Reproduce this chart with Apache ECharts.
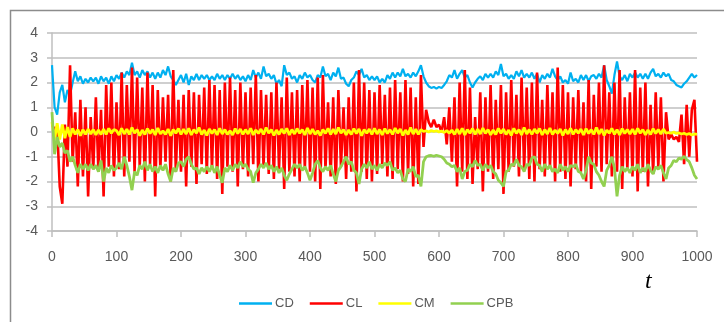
<!DOCTYPE html>
<html>
<head>
<meta charset="utf-8">
<script src="https://cdn.jsdelivr.net/npm/echarts@6/dist/echarts.min.js"></script>
<style>
  html, body { margin: 0; padding: 0; background: #fff; }
  #chart { width: 724px; height: 322px; }
</style>
</head>
<body>
<div id="chart"></div>
<script>
  // samples every 4 time units, t = 0 ... 1000
  const T_STEP = 4;
  const xTicks = [0, 100, 200, 300, 400, 500, 600, 700, 800, 900, 1000];
  const seriesNames = ['CD', 'CL', 'CM', 'CPB'];

  const cdValues = [
    2.7, 1.0, 0.7, 1.6, 1.9, 1.2, 1.7, 1.5, 2.0, 2.45, 2.05, 2.25, 1.95, 2.15, 2.0, 2.2, 2.05, 2.2, 1.95, 2.25, 2.05, 2.2, 1.95, 2.25, 2.05,
    2.3, 2.15, 2.4, 2.2, 2.45, 2.3, 2.8, 2.3, 2.45, 2.2, 2.5, 2.3, 2.45, 2.2, 2.4, 2.15, 2.4, 2.2, 2.5, 2.3, 2.65, 2.25, 2.1, 1.9, 2.1,
    2.3, 2.0, 2.35, 1.9, 2.25, 2.1, 2.35, 2.1, 2.3, 2.15, 2.3, 2.1, 2.25, 2.1, 2.35, 2.15, 2.3, 2.1, 2.3, 2.15, 2.35, 2.15, 2.3, 2.1, 2.25,
    2.05, 2.3, 2.1, 2.5, 2.2, 2.4, 2.15, 2.65, 2.25, 2.35, 2.15, 2.3, 1.95, 2.1, 1.85, 2.7, 2.3, 2.4, 2.15, 2.25, 2.0, 2.3, 2.15, 2.4, 2.2,
    2.3, 2.1, 2.0, 2.3, 2.2, 2.65, 2.25, 2.35, 2.1, 2.4, 2.25, 2.6, 2.15, 2.2, 1.95, 1.85, 2.1, 2.2, 2.45, 2.3, 2.55, 2.2, 2.3, 2.1, 2.25,
    2.1, 2.25, 2.0, 2.15, 2.0, 2.3, 2.15, 2.4, 2.2, 2.4, 2.25, 2.55, 2.25, 2.35, 2.2, 2.4, 2.25, 2.45, 2.7, 2.25, 2.0, 1.85, 1.78, 1.82, 1.75,
    1.82, 1.78, 1.9, 2.05, 2.3, 2.2, 2.5, 2.15, 2.35, 2.5, 2.2, 2.3, 2.0, 1.8, 2.0, 2.15, 2.25, 2.1, 2.35, 2.2, 2.35, 2.2, 2.45, 2.3, 2.75,
    2.25, 2.35, 2.15, 2.3, 2.15, 2.45, 2.25, 2.5, 2.2, 2.35, 2.2, 2.4, 2.15, 2.35, 2.0, 2.3, 2.15, 2.35, 2.2, 2.55, 2.25, 2.1, 2.25, 2.0, 2.1,
    1.95, 2.4, 2.05, 2.15, 2.0, 2.3, 2.1, 2.3, 2.05, 2.25, 2.3, 2.15, 2.35, 2.2, 2.7, 2.1, 1.85, 1.55, 2.3, 2.85, 2.25, 2.1, 2.3, 2.05, 2.35,
    2.2, 2.4, 2.2, 2.35, 2.15, 2.35, 2.15, 2.4, 2.55, 2.25, 2.35, 2.2, 2.4, 2.25, 2.35, 2.1, 2.05, 1.9, 1.85, 1.8, 1.95, 2.05, 2.2, 2.35, 2.2, 2.3
  ];

  const clValues = [
    0.3, 0.1, 0.2, -2.2, -2.9, 0.3, -1.4, 2.7, -1.2, 0.8, -2.2, 1.3, -1.8, 1.0, -2.6, 0.6, -1.5, 1.4, -1.6, 0.9, -2.6, 1.9, -1.4, 2.0, -1.8,
    1.2, -1.5, 2.4, -1.8, 1.9, -1.2, 2.6, -1.6, 2.2, -1.4, 1.8, -2.0, 2.4, -1.3, 1.9, -2.6, 1.7, -1.5, 1.4, -1.2, 1.5, -2.0, 2.5, -1.6, 1.3,
    -1.6, 1.5, -2.2, 1.7, -1.4, 1.6, -2.1, 1.5, -1.3, 1.8, -1.7, 2.1, -1.5, 1.9, -1.9, 1.7, -2.5, 2.0, -1.4, 2.2, -1.6, 1.7, -2.2, 2.0, -1.5,
    1.6, -1.8, 1.8, -1.3, 2.3, -2.0, 1.7, -1.4, 1.5, -1.7, 1.6, -1.9, 2.0, -1.5, 1.4, -2.3, 2.2, -1.6, 1.6, -1.8, 1.7, -2.0, 1.9, -1.5, 2.1,
    -1.6, 1.8, -2.0, 2.2, -2.3, 2.3, -1.5, 1.2, -1.8, 1.4, -2.1, 1.7, -1.4, 1.0, -1.9, 1.4, -1.6, 2.0, -2.4, 2.5, -1.6, 2.0, -1.9, 1.7, -2.0,
    1.6, -1.7, 1.9, -1.3, 1.5, -1.8, 1.8, -1.9, 2.1, -1.5, 1.6, -2.0, 2.1, -1.7, 1.8, -2.2, 1.4, -2.1, 2.3, -0.6, 0.9, 0.4, 0.2, 0.5, 0.2,
    0.3, 0.0, 0.6, -0.5, 1.0, -1.2, 1.4, -2.2, 2.0, -1.6, 2.5, -1.9, 1.8, -2.1, 0.6, -1.5, 1.6, -2.4, 1.4, -1.6, 1.9, -1.9, 1.3, -1.5, 1.9,
    -2.5, 1.6, -1.6, 2.1, -1.4, 1.5, -1.8, 2.2, -1.5, 1.8, -1.9, 2.0, -2.0, 2.4, -1.5, 1.3, -1.8, 1.9, -1.4, 1.6, -2.0, 2.6, -1.6, 1.9, -1.9,
    1.6, -2.2, 1.4, -1.5, 1.7, -1.6, 1.2, -2.0, 2.1, -2.3, 1.5, -1.4, 2.0, -1.6, 2.7, -1.3, 1.6, -1.8, 2.0, -1.6, 2.5, -2.3, 1.4, -1.5, 1.6,
    -1.8, 2.5, -2.4, 1.8, -1.6, 2.0, -2.2, 1.1, -1.7, 1.6, -1.4, 1.4, -2.0, 0.8, -0.3, -0.1, -0.3, -0.2, -0.4, 0.7, -1.3, 1.1, -1.0, 0.9, 1.3, -1.2
  ];

  const cmValues = [
    0.4, -0.3, 0.35, -0.3, 0.3, -0.25, 0.2, -0.2, 0.15, -0.1, 0.1, -0.15, 0.1, -0.1, 0.12, -0.08, 0.1, -0.12, 0.08, -0.1, 0.12, -0.1, 0.15, -0.05, 0.1,
    0.05, -0.12, 0.15, -0.08, 0.12, -0.1, 0.18, -0.05, 0.1, -0.15, 0.08, -0.1, 0.14, -0.06, 0.1, -0.12, 0.16, -0.08, 0.05, -0.1, 0.12, -0.15, 0.1, -0.05, 0.14,
    -0.1, 0.12, -0.08, 0.15, -0.12, 0.1, -0.05, 0.18, -0.1, 0.08, -0.14, 0.12, -0.06, 0.1, -0.12, 0.15, -0.08, 0.1, -0.1, 0.05, -0.12, 0.14, -0.06, 0.12, -0.1,
    0.1, -0.08, 0.15, -0.12, 0.08, -0.06, 0.12, -0.1, 0.18, -0.05, 0.1, -0.14, 0.08, -0.1, 0.12, -0.06, 0.15, -0.12, 0.1, -0.08, 0.14, -0.05, 0.1, -0.12, 0.16,
    -0.08, 0.12, -0.1, 0.05, -0.14, 0.1, -0.06, 0.15, -0.1, 0.12, -0.08, 0.18, -0.05, 0.1, -0.12, 0.08, -0.1, 0.14, -0.06, 0.12, -0.15, 0.1, -0.05, 0.12, -0.1,
    0.15, -0.08, 0.1, -0.12, 0.14, -0.06, 0.1, -0.1, 0.16, -0.05, 0.12, -0.14, 0.08, -0.1, 0.18, -0.08, 0.12, -0.1, 0.1, 0.02, 0.05, 0.0, 0.06, 0.02, 0.05,
    0.0, 0.04, -0.02, 0.06, -0.05, 0.08, -0.1, 0.12, -0.08, 0.15, -0.12, 0.1, -0.05, 0.14, -0.1, 0.12, -0.08, 0.16, -0.06, 0.1, -0.12, 0.08, -0.1, 0.15, -0.05,
    0.12, -0.1, 0.08, -0.14, 0.15, -0.06, 0.1, -0.12, 0.18, -0.08, 0.1, -0.1, 0.12, -0.05, 0.14, -0.12, 0.1, -0.08, 0.16, -0.1, 0.08, -0.06, 0.12, -0.14, 0.1,
    -0.08, 0.15, -0.1, 0.1, -0.05, 0.12, -0.12, 0.14, -0.06, 0.1, -0.1, 0.18, -0.08, 0.12, -0.14, 0.08, -0.05, 0.15, -0.1, 0.1, -0.12, 0.14, -0.06, 0.1, -0.08,
    0.12, -0.1, 0.15, -0.05, 0.1, -0.12, 0.08, -0.1, 0.14, -0.06, 0.1, -0.08, 0.12, -0.05, -0.02, -0.05, 0.0, -0.06, -0.04, -0.08, -0.05, -0.1, -0.06, -0.12, -0.08, -0.1
  ];

  const cpbValues = [
    0.8, -0.9, -0.2, -0.6, -0.45, -0.85, -0.75, -1.2, -1.0, -1.35, -1.65, -1.3, -1.5, -1.3, -1.55, -1.3, -1.5, -1.35, -1.6, -1.15, -2.0, -1.45, -1.65, -1.35, -1.55,
    -1.45, -1.25, -1.5, -1.0, -1.35, -1.8, -2.35, -1.6, -1.75, -1.35, -1.5, -1.2, -1.55, -1.3, -1.6, -1.4, -1.65, -1.35, -1.55, -1.3, -1.7, -2.0, -1.45, -1.6, -1.25,
    -1.2, -1.4, -1.1, -1.0, -1.3, -1.5, -1.45, -1.7, -1.45, -1.6, -1.4, -1.6, -1.35, -1.65, -1.4, -1.75, -2.05, -1.45, -1.6, -1.35, -1.55, -1.3, -1.45, -1.2, -1.4,
    -1.3, -1.5, -1.6, -2.05, -1.65, -1.5, -1.3, -1.45, -1.25, -1.5, -1.35, -1.6, -1.4, -1.65, -1.45, -1.75, -1.95, -1.7, -1.5, -1.3, -1.45, -1.3, -1.55, -1.4, -1.65,
    -1.95, -1.65, -1.3, -1.15, -1.45, -1.6, -1.4, -1.55, -1.35, -1.7, -2.0, -1.55, -1.4, -1.2, -1.0, -1.3, -1.2, -1.55, -1.65, -2.1, -1.5, -1.3, -1.45, -1.2, -1.5,
    -1.35, -1.55, -1.3, -1.45, -1.25, -1.35, -1.2, -1.55, -1.45, -1.65, -1.55, -1.9, -2.0, -1.5, -1.6, -1.4, -1.8, -1.75, -2.2, -1.2, -1.0, -0.96, -0.95, -0.98, -0.94,
    -0.97, -1.0, -1.1, -1.25, -1.3, -1.4, -1.35, -1.6, -1.45, -1.9, -1.6, -1.55, -1.3, -1.4, -1.15, -1.35, -1.3, -1.55, -1.3, -1.45, -1.35, -1.6, -1.7, -1.95, -2.05,
    -2.2, -1.6, -1.55, -1.3, -1.35, -1.1, -1.35, -1.4, -1.6, -1.3, -1.35, -1.05, -1.0, -1.3, -1.35, -1.6, -1.3, -1.5, -1.35, -1.6, -1.5, -1.65, -1.3, -1.55, -1.4,
    -1.6, -1.35, -1.4, -1.3, -1.6, -1.65, -1.9, -1.55, -1.0, -1.25, -1.3, -1.6, -1.75, -2.0, -2.2, -1.55, -1.35, -1.0, -1.45, -2.6, -1.75, -1.4, -1.6, -1.45, -1.65,
    -1.4, -1.55, -1.3, -1.65, -1.45, -1.6, -1.3, -1.55, -1.7, -1.4, -1.5, -1.35, -1.65, -1.9, -1.45, -1.35, -1.15, -1.2, -1.05, -1.1, -0.98, -1.12, -1.2, -1.45, -1.75, -1.9
  ];

  const colors = ['#00b0f0', '#ff0000', '#ffff00', '#92d050'];
  const widths = [2.2, 2.6, 2.8, 2.8];
  const allValues = [cdValues, clValues, cmValues, cpbValues];

  const toPoints = (values) => values.map((v, i) => [i * T_STEP, v]);

  const chart = echarts.init(document.getElementById('chart'), null, { renderer: 'canvas' });

  const option = {
    animation: false,
    backgroundColor: '#fff',
    textStyle: { fontFamily: 'Liberation Sans, Arial, sans-serif' },
    grid: { left: 52, right: 27, top: 33, bottom: 91, containLabel: false },
    legend: {
      data: seriesNames,
      left: 234,
      top: 292,
      icon: 'rect',
      itemWidth: 33,
      itemHeight: 2.5,
      itemGap: 16,
      textStyle: { color: '#595959', fontSize: 13, padding: [0, 0, 0, -2] }
    },
    xAxis: {
      type: 'value',
      min: xTicks[0],
      max: xTicks[xTicks.length - 1],
      interval: 100,
      axisLine: { show: true, onZero: false, lineStyle: { color: '#bfbfbf', width: 1.5 } },
      axisTick: { show: true, length: 6, lineStyle: { color: '#bfbfbf', width: 1.5 } },
      axisLabel: { color: '#595959', fontSize: 14, margin: 19, formatter: (v) => String(v) },
      splitLine: { show: false }
    },
    yAxis: {
      type: 'value',
      min: -4,
      max: 4,
      interval: 1,
      axisLine: { show: true, lineStyle: { color: '#bfbfbf', width: 1.5 } },
      axisTick: { show: true, length: 5, lineStyle: { color: '#bfbfbf', width: 1.5 } },
      axisLabel: { color: '#595959', fontSize: 14, margin: 14 },
      splitLine: { show: true, lineStyle: { color: '#bfbfbf', width: 1.5 } }
    },
    series: seriesNames.map((name, k) => ({
      name,
      type: 'line',
      data: toPoints(allValues[k]),
      symbol: 'none',
      showSymbol: false,
      sampling: null,
      lineStyle: { color: colors[k], width: widths[k] },
      itemStyle: { color: colors[k] },
      z: 2 + k
    })),
    graphic: [
      {
        type: 'rect',
        shape: { x: 10.5, y: 10.5, width: 730, height: 330 },
        style: { fill: 'none', stroke: '#8c8c8c', lineWidth: 1.5 },
        silent: true
      },
      {
        type: 'text',
        left: 645,
        top: 270,
        style: {
          text: 't',
          font: 'italic 24px "Liberation Serif", "Times New Roman", serif',
          fill: '#000'
        }
      }
    ]
  };

  chart.setOption(option);
</script>
</body>
</html>
